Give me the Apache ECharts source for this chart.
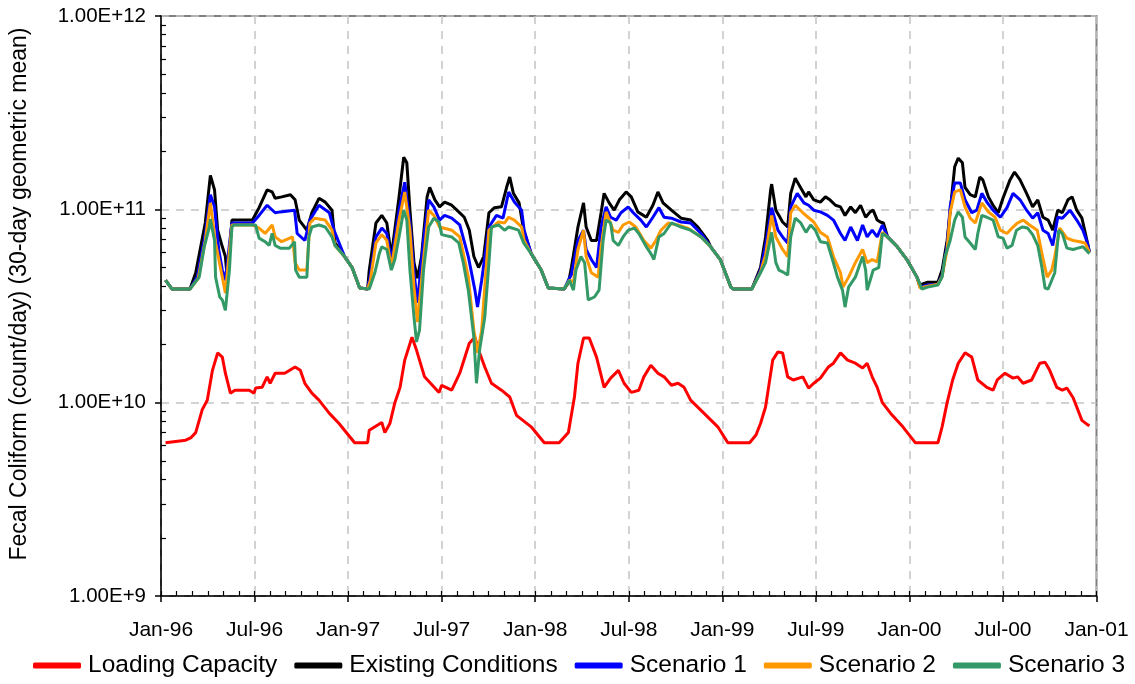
<!DOCTYPE html>
<html>
<head>
<meta charset="utf-8">
<title>Fecal Coliform Loading</title>
<script src="https://cdn.jsdelivr.net/npm/echarts@6/dist/echarts.min.js"></script>
<style>
  html, body { margin: 0; padding: 0; background: #ffffff; }
  #chart { width: 1135px; height: 684px; }
</style>
</head>
<body>
<div id="chart"></div>
<script>
// Axis tick labels, one every six months starting January 1996
const tickLabels = ['Jan-96','Jul-96','Jan-97','Jul-97','Jan-98','Jul-98','Jan-99','Jul-99','Jan-00','Jul-00','Jan-01'];

// 30-day geometric mean fecal coliform load (count/day), [date, value]
const loadingCapacity = [
  ['1996-01-10',6.2e9],['1996-02-18',6.4e9],['1996-02-28',6.6e9],['1996-03-08',7.0e9],['1996-03-21',9.2e9],
  ['1996-03-31',1.03e10],['1996-04-10',1.47e10],['1996-04-20',1.81e10],['1996-04-29',1.72e10],['1996-05-05',1.42e10],
  ['1996-05-15',1.12e10],['1996-05-24',1.16e10],['1996-06-21',1.16e10],['1996-06-30',1.12e10],['1996-07-03',1.19e10],
  ['1996-07-16',1.20e10],['1996-07-26',1.36e10],['1996-08-01',1.26e10],['1996-08-11',1.42e10],['1996-08-30',1.42e10],
  ['1996-09-19',1.53e10],['1996-09-29',1.47e10],['1996-10-08',1.26e10],['1996-10-22',1.12e10],['1996-11-05',1.03e10],
  ['1996-11-25',8.8e9],['1996-12-14',7.8e9],['1997-01-14',6.2e9],['1997-02-08',6.2e9],['1997-02-11',7.2e9],
  ['1997-03-06',7.9e9],['1997-03-12',7.0e9],['1997-03-22',7.8e9],['1997-04-01',1.0e10],['1997-04-11',1.20e10],
  ['1997-04-20',1.66e10],['1997-05-04',2.18e10],['1997-05-13',1.87e10],['1997-05-29',1.36e10],['1997-06-26',1.13e10],
  ['1997-07-01',1.23e10],['1997-07-21',1.16e10],['1997-08-06',1.42e10],['1997-08-25',2.03e10],['1997-09-05',2.18e10],
  ['1997-09-12',1.87e10],['1997-09-24',1.53e10],['1997-10-07',1.26e10],['1997-10-27',1.16e10],['1997-11-12',1.07e10],
  ['1997-11-25',8.6e9],['1997-12-24',7.5e9],['1998-01-19',6.2e9],['1998-02-16',6.2e9],['1998-03-05',7.0e9],
  ['1998-03-17',1.07e10],['1998-03-24',1.60e10],['1998-04-04',2.16e10],['1998-04-15',2.16e10],['1998-04-29',1.72e10],
  ['1998-05-14',1.20e10],['1998-05-27',1.34e10],['1998-06-11',1.47e10],['1998-06-22',1.26e10],['1998-07-06',1.13e10],
  ['1998-07-21',1.16e10],['1998-07-31',1.36e10],['1998-08-14',1.56e10],['1998-08-28',1.42e10],['1998-09-09',1.36e10],
  ['1998-09-23',1.23e10],['1998-10-06',1.26e10],['1998-10-18',1.20e10],['1998-10-31',1.03e10],['1998-11-26',8.8e9],
  ['1998-12-23',7.5e9],['1999-01-12',6.2e9],['1999-02-22',6.2e9],['1999-03-06',6.8e9],['1999-03-15',7.8e9],
  ['1999-03-25',9.5e9],['1999-04-08',1.66e10],['1999-04-18',1.83e10],['1999-04-27',1.81e10],['1999-05-07',1.36e10],
  ['1999-05-18',1.31e10],['1999-06-06',1.36e10],['1999-06-17',1.19e10],['1999-06-27',1.26e10],['1999-07-10',1.34e10],
  ['1999-07-26',1.53e10],['1999-08-05',1.60e10],['1999-08-19',1.81e10],['1999-09-02',1.66e10],['1999-09-17',1.60e10],
  ['1999-10-01',1.51e10],['1999-10-10',1.60e10],['1999-10-20',1.36e10],['1999-10-30',1.20e10],['1999-11-09',1.0e10],
  ['1999-11-25',8.8e9],['1999-12-19',7.5e9],['2000-01-13',6.2e9],['2000-02-25',6.2e9],['2000-03-04',7.5e9],
  ['2000-03-14',1.0e10],['2000-03-25',1.31e10],['2000-04-05',1.60e10],['2000-04-18',1.81e10],['2000-05-01',1.72e10],
  ['2000-05-13',1.31e10],['2000-05-31',1.20e10],['2000-06-12',1.16e10],['2000-06-20',1.31e10],['2000-07-05',1.42e10],
  ['2000-07-21',1.34e10],['2000-07-30',1.36e10],['2000-08-10',1.26e10],['2000-08-27',1.31e10],['2000-09-12',1.60e10],
  ['2000-09-22',1.62e10],['2000-10-01',1.47e10],['2000-10-15',1.20e10],['2000-10-26',1.16e10],['2000-11-04',1.19e10],
  ['2000-11-16',1.06e10],['2000-11-23',9.5e9],['2000-12-03',8.1e9],['2000-12-14',7.7e9],['2000-12-18',7.6e9]
];

const existingConditions = [
  ['1996-01-10',4.3e10],['1996-01-23',3.87e10],['1996-02-26',3.87e10],['1996-03-08',4.7e10],['1996-03-27',8.5e10],
  ['1996-04-06',1.5e11],['1996-04-14',1.26e11],['1996-04-20',7.8e10],['1996-04-29',6.4e10],['1996-05-05',5.7e10],
  ['1996-05-09',4.3e10],['1996-05-18',8.8e10],['1996-05-24',8.8e10],['1996-06-27',8.8e10],['1996-07-10',1.02e11],
  ['1996-07-26',1.26e11],['1996-08-05',1.23e11],['1996-08-11',1.14e11],['1996-08-24',1.16e11],['1996-09-10',1.19e11],
  ['1996-09-19',1.12e11],['1996-09-27',8.8e10],['1996-10-12',7.8e10],['1996-10-22',9.6e10],['1996-11-05',1.14e11],
  ['1996-11-17',1.09e11],['1996-11-30',9.9e10],['1996-12-06',6.7e10],['1996-12-25',5.7e10],['1997-01-09',5.0e10],
  ['1997-01-24',3.92e10],['1997-02-08',3.87e10],['1997-02-11',4.85e10],['1997-02-23',8.5e10],['1997-03-06',9.3e10],
  ['1997-03-16',8.5e10],['1997-03-25',5.7e10],['1997-04-09',1.16e11],['1997-04-18',1.86e11],['1997-04-24',1.74e11],
  ['1997-04-30',9.9e10],['1997-05-08',5.3e10],['1997-05-15',4.4e10],['1997-05-23',5.7e10],['1997-06-03',1.16e11],
  ['1997-06-08',1.3e11],['1997-06-18',1.12e11],['1997-06-27',1.03e11],['1997-07-07',1.09e11],['1997-07-21',1.05e11],
  ['1997-08-04',9.7e10],['1997-08-15',9.1e10],['1997-08-25',7.8e10],['1997-09-03',5.7e10],['1997-09-12',5.0e10],
  ['1997-09-22',5.7e10],['1997-10-02',9.6e10],['1997-10-13',1.02e11],['1997-10-27',1.03e11],['1997-11-06',1.3e11],
  ['1997-11-12',1.47e11],['1997-11-19',1.21e11],['1997-11-30',1.08e11],['1997-12-09',7.8e10],['1997-12-24',5.9e10],
  ['1998-01-13',4.85e10],['1998-01-27',3.92e10],['1998-02-25',3.87e10],['1998-03-05',4.16e10],['1998-03-11',5.0e10],
  ['1998-03-24',8.1e10],['1998-04-04',1.08e11],['1998-04-09',8.1e10],['1998-04-19',6.9e10],['1998-04-29',6.9e10],
  ['1998-05-08',9.6e10],['1998-05-14',1.21e11],['1998-05-24',1.08e11],['1998-06-03',9.9e10],['1998-06-13',1.12e11],
  ['1998-06-26',1.23e11],['1998-07-06',1.16e11],['1998-07-19',9.7e10],['1998-08-05',9.1e10],['1998-08-18',1.05e11],
  ['1998-08-28',1.23e11],['1998-09-07',1.08e11],['1998-09-23',9.9e10],['1998-10-12',9.0e10],['1998-10-31',8.8e10],
  ['1998-11-14',8.1e10],['1998-12-03',6.9e10],['1998-12-09',6.4e10],['1998-12-28',5.5e10],['1999-01-18',3.96e10],
  ['1999-01-23',3.87e10],['1999-02-26',3.87e10],['1999-03-15',5.0e10],['1999-03-25',7.2e10],['1999-04-04',1.26e11],
  ['1999-04-06',1.35e11],['1999-04-14',9.9e10],['1999-04-20',9.3e10],['1999-04-27',8.6e10],['1999-05-07',8.1e10],
  ['1999-05-13',1.21e11],['1999-05-22',1.45e11],['1999-06-02',1.29e11],['1999-06-12',1.16e11],['1999-06-17',1.23e11],
  ['1999-06-27',1.12e11],['1999-07-10',1.09e11],['1999-07-20',1.16e11],['1999-07-29',1.12e11],['1999-08-09',1.05e11],
  ['1999-08-19',1.03e11],['1999-08-28',9.3e10],['1999-09-08',1.03e11],['1999-09-17',9.6e10],['1999-09-27',1.05e11],
  ['1999-10-07',9.1e10],['1999-10-16',9.7e10],['1999-10-22',9.9e10],['1999-10-30',8.8e10],['1999-11-05',8.6e10],
  ['1999-11-11',8.5e10],['1999-11-19',7.2e10],['1999-12-08',6.4e10],['1999-12-27',5.5e10],['2000-01-16',4.46e10],
  ['2000-01-22',4.06e10],['2000-02-06',4.2e10],['2000-02-25',4.2e10],['2000-03-04',4.85e10],['2000-03-14',6.9e10],
  ['2000-03-23',1.16e11],['2000-03-29',1.66e11],['2000-04-05',1.84e11],['2000-04-13',1.74e11],['2000-04-18',1.3e11],
  ['2000-04-28',1.19e11],['2000-05-08',1.16e11],['2000-05-17',1.47e11],['2000-05-23',1.42e11],['2000-06-03',1.16e11],
  ['2000-06-12',1.05e11],['2000-06-22',9.6e10],['2000-07-01',1.14e11],['2000-07-15',1.42e11],['2000-07-24',1.56e11],
  ['2000-08-04',1.42e11],['2000-08-17',1.21e11],['2000-08-29',1.03e11],['2000-09-08',1.12e11],['2000-09-18',9.1e10],
  ['2000-09-28',8.8e10],['2000-10-07',7.8e10],['2000-10-17',9.9e10],['2000-10-26',9.6e10],['2000-11-06',1.12e11],
  ['2000-11-14',1.16e11],['2000-11-23',9.9e10],['2000-12-03',9.0e10],['2000-12-13',6.9e10],['2000-12-18',6.0e10]
];

const scenario1 = [
  ['1996-01-10',4.3e10],['1996-01-23',3.87e10],['1996-02-26',3.87e10],['1996-03-11',4.46e10],['1996-03-27',7.4e10],
  ['1996-04-06',1.19e11],['1996-04-14',1.03e11],['1996-04-22',6.2e10],['1996-04-29',4.85e10],['1996-05-05',4.3e10],
  ['1996-05-18',8.5e10],['1996-06-27',8.5e10],['1996-07-10',9.3e10],['1996-07-26',1.05e11],['1996-08-11',9.6e10],
  ['1996-08-21',9.7e10],['1996-09-18',9.9e10],['1996-09-23',7.5e10],['1996-10-08',6.9e10],['1996-10-18',8.8e10],
  ['1996-11-05',1.05e11],['1996-11-25',9.6e10],['1996-12-04',7.8e10],['1996-12-25',5.7e10],['1997-01-09',5.0e10],
  ['1997-01-24',3.92e10],['1997-02-08',3.87e10],['1997-02-13',4.6e10],['1997-02-23',7.2e10],['1997-03-06',8.0e10],
  ['1997-03-16',7.5e10],['1997-03-25',5.35e10],['1997-04-09',9.9e10],['1997-04-20',1.38e11],['1997-04-30',8.5e10],
  ['1997-05-08',4.7e10],['1997-05-15',3.28e10],['1997-05-27',6.9e10],['1997-06-06',1.12e11],['1997-06-16',1.03e11],
  ['1997-06-27',8.8e10],['1997-07-07',9.3e10],['1997-07-21',9.0e10],['1997-08-06',8.3e10],['1997-08-23',5.7e10],
  ['1997-09-05',3.82e10],['1997-09-10',3.12e10],['1997-09-18',4.3e10],['1997-10-02',8.1e10],['1997-10-17',9.3e10],
  ['1997-10-30',9.0e10],['1997-11-10',1.23e11],['1997-11-21',1.09e11],['1997-12-05',9.9e10],['1997-12-10',7.8e10],
  ['1997-12-24',5.9e10],['1998-01-13',4.85e10],['1998-01-27',3.92e10],['1998-02-25',3.87e10],['1998-03-07',4.4e10],
  ['1998-03-11',4.6e10],['1998-03-24',6.9e10],['1998-04-04',7.8e10],['1998-04-09',6.2e10],['1998-04-19',5.5e10],
  ['1998-04-29',5.0e10],['1998-05-08',8.1e10],['1998-05-18',1.03e11],['1998-05-27',9.1e10],['1998-06-07',8.8e10],
  ['1998-06-16',9.6e10],['1998-06-30',1.03e11],['1998-07-10',9.6e10],['1998-07-25',8.8e10],['1998-08-05',8.1e10],
  ['1998-08-18',9.1e10],['1998-08-30',1.02e11],['1998-09-09',9.1e10],['1998-09-23',9.0e10],['1998-10-12',8.6e10],
  ['1998-10-31',8.5e10],['1998-11-20',7.5e10],['1998-12-09',6.4e10],['1998-12-28',5.5e10],['1999-01-18',3.96e10],
  ['1999-01-23',3.87e10],['1999-02-26',3.87e10],['1999-03-15',4.85e10],['1999-03-25',6.5e10],['1999-04-06',1.02e11],
  ['1999-04-18',7.8e10],['1999-04-27',7.2e10],['1999-05-07',6.7e10],['1999-05-13',1.03e11],['1999-05-26',1.21e11],
  ['1999-06-08',1.08e11],['1999-06-17',1.05e11],['1999-06-27',9.9e10],['1999-07-10',9.7e10],['1999-07-24',9.3e10],
  ['1999-08-05',8.8e10],['1999-08-19',7.5e10],['1999-08-28',6.9e10],['1999-09-08',8.1e10],['1999-09-21',6.9e10],
  ['1999-10-01',8.3e10],['1999-10-10',7.2e10],['1999-10-20',7.8e10],['1999-10-30',7.2e10],['1999-11-09',8.3e10],
  ['1999-11-19',7.2e10],['1999-12-08',6.4e10],['1999-12-27',5.5e10],['2000-01-16',4.46e10],['2000-01-22',3.96e10],
  ['2000-02-06',4.06e10],['2000-02-25',4.1e10],['2000-03-04',4.57e10],['2000-03-14',6.5e10],['2000-03-20',1.03e11],
  ['2000-03-29',1.37e11],['2000-04-09',1.37e11],['2000-04-18',1.12e11],['2000-05-01',9.6e10],['2000-05-11',9.9e10],
  ['2000-05-21',1.21e11],['2000-05-31',1.09e11],['2000-06-12',9.9e10],['2000-06-26',9.1e10],['2000-07-09',1.02e11],
  ['2000-07-21',1.21e11],['2000-08-04',1.12e11],['2000-08-17',9.9e10],['2000-08-29',9.0e10],['2000-09-08',9.6e10],
  ['2000-09-18',7.8e10],['2000-09-28',7.5e10],['2000-10-07',6.5e10],['2000-10-17',9.1e10],['2000-10-26',9.0e10],
  ['2000-11-10',9.9e10],['2000-11-23',8.8e10],['2000-12-05',7.8e10],['2000-12-14',6.7e10],['2000-12-18',6.0e10]
];

const scenario2 = [
  ['1996-01-10',4.3e10],['1996-01-23',3.87e10],['1996-02-26',3.87e10],['1996-03-13',4.4e10],['1996-03-27',6.9e10],
  ['1996-04-06',1.08e11],['1996-04-16',6.7e10],['1996-04-29',4.46e10],['1996-05-05',3.69e10],['1996-05-18',8.3e10],
  ['1996-06-27',8.3e10],['1996-07-10',8.0e10],['1996-07-22',7.5e10],['1996-08-05',8.3e10],['1996-08-11',7.2e10],
  ['1996-08-24',6.8e10],['1996-09-14',7.2e10],['1996-09-19',5.3e10],['1996-09-27',4.85e10],['1996-10-12',4.85e10],
  ['1996-10-18',8.5e10],['1996-10-28',9.0e10],['1996-11-17',8.8e10],['1996-11-30',7.8e10],['1996-12-06',6.5e10],
  ['1996-12-25',5.7e10],['1997-01-09',5.0e10],['1997-01-24',3.92e10],['1997-02-08',3.87e10],['1997-02-13',4.3e10],
  ['1997-02-23',6.7e10],['1997-03-06',7.4e10],['1997-03-16',6.9e10],['1997-03-25',5.0e10],['1997-04-09',8.8e10],
  ['1997-04-20',1.23e11],['1997-04-30',7.8e10],['1997-05-08',3.96e10],['1997-05-15',2.61e10],['1997-05-27',5.5e10],
  ['1997-06-06',9.9e10],['1997-06-16',9.3e10],['1997-06-27',8.1e10],['1997-07-21',7.8e10],['1997-08-06',7.2e10],
  ['1997-08-23',4.46e10],['1997-09-03',2.37e10],['1997-09-10',1.81e10],['1997-09-18',2.37e10],['1997-10-02',7.8e10],
  ['1997-10-21',8.6e10],['1997-11-02',8.5e10],['1997-11-10',9.1e10],['1997-11-21',8.8e10],['1997-12-05',8.1e10],
  ['1997-12-10',6.9e10],['1997-12-24',5.9e10],['1998-01-13',4.85e10],['1998-01-27',3.92e10],['1998-02-25',3.87e10],
  ['1998-03-07',4.3e10],['1998-03-15',4.2e10],['1998-03-24',6.2e10],['1998-04-04',7.8e10],['1998-04-09',5.7e10],
  ['1998-04-19',4.7e10],['1998-05-02',4.46e10],['1998-05-08',6.4e10],['1998-05-18',9.7e10],['1998-06-01',7.8e10],
  ['1998-06-11',7.6e10],['1998-06-20',8.3e10],['1998-07-02',8.6e10],['1998-07-15',8.1e10],['1998-07-31',6.9e10],
  ['1998-08-14',6.3e10],['1998-08-24',6.9e10],['1998-09-03',7.8e10],['1998-09-17',8.5e10],['1998-10-06',8.3e10],
  ['1998-10-25',8.0e10],['1998-11-20',7.2e10],['1998-12-09',6.4e10],['1998-12-28',5.5e10],['1999-01-18',3.96e10],
  ['1999-01-23',3.87e10],['1999-02-26',3.87e10],['1999-03-15',4.75e10],['1999-03-25',5.8e10],['1999-04-06',9.3e10],
  ['1999-04-14',7.2e10],['1999-04-27',6.2e10],['1999-05-07',5.7e10],['1999-05-13',9.6e10],['1999-05-22',1.05e11],
  ['1999-06-06',9.6e10],['1999-06-16',9.1e10],['1999-06-27',8.6e10],['1999-07-10',7.6e10],['1999-07-24',7.2e10],
  ['1999-08-05',5.7e10],['1999-08-19',4.7e10],['1999-08-24',3.96e10],['1999-09-04',4.46e10],['1999-09-17',5.3e10],
  ['1999-10-01',6.2e10],['1999-10-10',5.3e10],['1999-10-20',5.5e10],['1999-10-30',5.35e10],['1999-11-09',7.6e10],
  ['1999-11-19',7.2e10],['1999-12-08',6.4e10],['1999-12-27',5.5e10],['2000-01-16',4.46e10],['2000-01-22',3.92e10],
  ['2000-02-06',4.0e10],['2000-02-25',4.1e10],['2000-03-04',4.5e10],['2000-03-14',6.2e10],['2000-03-20',9.6e10],
  ['2000-03-29',1.23e11],['2000-04-09',1.26e11],['2000-04-18',1.03e11],['2000-04-28',9.0e10],['2000-05-08',8.5e10],
  ['2000-05-21',1.08e11],['2000-06-03',9.7e10],['2000-06-16',9.1e10],['2000-06-26',7.8e10],['2000-07-09',7.5e10],
  ['2000-07-21',8.1e10],['2000-07-30',8.5e10],['2000-08-10',8.8e10],['2000-08-23',8.3e10],['2000-09-07',7.8e10],
  ['2000-09-16',5.9e10],['2000-09-26',4.46e10],['2000-10-05',4.85e10],['2000-10-11',5.7e10],['2000-10-21',8.0e10],
  ['2000-11-04',7.1e10],['2000-11-16',6.9e10],['2000-11-29',6.8e10],['2000-12-09',6.7e10],['2000-12-18',6.0e10]
];

const scenario3 = [
  ['1996-01-10',4.3e10],['1996-01-23',3.87e10],['1996-02-26',3.87e10],['1996-03-15',4.46e10],['1996-03-25',6.4e10],
  ['1996-04-04',8.1e10],['1996-04-06',8.9e10],['1996-04-14',6.9e10],['1996-04-16',4.46e10],['1996-04-24',3.52e10],
  ['1996-04-29',3.4e10],['1996-05-05',3.0e10],['1996-05-13',4.85e10],['1996-05-18',8.1e10],['1996-05-22',8.3e10],
  ['1996-07-03',8.3e10],['1996-07-10',7.1e10],['1996-07-22',6.8e10],['1996-07-30',6.5e10],['1996-08-05',7.5e10],
  ['1996-08-11',6.5e10],['1996-08-21',6.3e10],['1996-09-08',6.3e10],['1996-09-18',6.8e10],['1996-09-20',4.85e10],
  ['1996-09-27',4.46e10],['1996-10-12',4.46e10],['1996-10-16',7.2e10],['1996-10-22',8.1e10],['1996-11-05',8.3e10],
  ['1996-11-17',8.1e10],['1996-11-30',7.2e10],['1996-12-06',6.5e10],['1996-12-25',5.7e10],['1997-01-09',5.0e10],
  ['1997-01-24',3.92e10],['1997-02-11',3.87e10],['1997-02-21',4.7e10],['1997-03-01',5.9e10],['1997-03-06',6.4e10],
  ['1997-03-16',6.2e10],['1997-03-25',4.85e10],['1997-04-01',5.5e10],['1997-04-09',7.2e10],['1997-04-18',9.9e10],
  ['1997-04-24',8.8e10],['1997-04-30',4.85e10],['1997-05-08',2.77e10],['1997-05-13',2.06e10],['1997-05-19',2.37e10],
  ['1997-05-27',4.85e10],['1997-06-06',8.1e10],['1997-06-16',9.0e10],['1997-06-26',8.6e10],['1997-07-01',7.4e10],
  ['1997-07-21',7.2e10],['1997-08-04',6.7e10],['1997-08-13',5.3e10],['1997-08-23',3.82e10],['1997-09-03',2.18e10],
  ['1997-09-08',1.26e10],['1997-09-14',1.87e10],['1997-09-24',2.77e10],['1997-10-02',5.3e10],['1997-10-07',8.1e10],
  ['1997-10-21',8.3e10],['1997-11-02',7.8e10],['1997-11-10',8.1e10],['1997-11-29',7.8e10],['1997-12-09',6.7e10],
  ['1997-12-24',5.9e10],['1998-01-13',4.85e10],['1998-01-27',3.92e10],['1998-02-25',3.87e10],['1998-03-07',4.3e10],
  ['1998-03-15',3.82e10],['1998-03-20',4.85e10],['1998-03-30',5.7e10],['1998-04-06',5.3e10],['1998-04-13',3.4e10],
  ['1998-04-25',3.52e10],['1998-05-04',3.82e10],['1998-05-12',6.9e10],['1998-05-18',8.8e10],['1998-05-27',8.5e10],
  ['1998-06-01',6.9e10],['1998-06-11',6.5e10],['1998-06-20',7.2e10],['1998-06-30',7.8e10],['1998-07-12',8.0e10],
  ['1998-07-21',7.5e10],['1998-08-05',6.4e10],['1998-08-14',5.9e10],['1998-08-20',5.5e10],['1998-08-30',7.2e10],
  ['1998-09-09',7.5e10],['1998-09-23',8.5e10],['1998-10-12',8.1e10],['1998-10-31',7.8e10],['1998-11-20',7.2e10],
  ['1998-12-09',6.4e10],['1998-12-28',5.5e10],['1999-01-18',3.96e10],['1999-01-23',3.87e10],['1999-02-26',3.87e10],
  ['1999-03-15',4.7e10],['1999-03-25',5.3e10],['1999-04-06',7.6e10],['1999-04-14',5.3e10],['1999-04-20',4.85e10],
  ['1999-04-27',4.75e10],['1999-05-07',4.57e10],['1999-05-13',7.2e10],['1999-05-22',9.0e10],['1999-06-02',8.5e10],
  ['1999-06-12',7.6e10],['1999-06-21',8.3e10],['1999-06-30',7.8e10],['1999-07-10',6.8e10],['1999-07-24',6.7e10],
  ['1999-08-03',5.5e10],['1999-08-13',4.46e10],['1999-08-23',3.82e10],['1999-08-28',3.12e10],['1999-09-04',3.96e10],
  ['1999-09-17',4.46e10],['1999-10-01',5.7e10],['1999-10-07',4.85e10],['1999-10-10',3.82e10],['1999-10-16',4.3e10],
  ['1999-10-22',4.85e10],['1999-11-02',5.0e10],['1999-11-09',7.5e10],['1999-11-19',7.2e10],['1999-12-08',6.4e10],
  ['1999-12-27',5.5e10],['2000-01-16',4.46e10],['2000-01-26',3.87e10],['2000-02-06',3.96e10],['2000-02-25',4.06e10],
  ['2000-03-04',4.46e10],['2000-03-10',5.7e10],['2000-03-20',6.9e10],['2000-03-29',8.8e10],['2000-04-05',9.7e10],
  ['2000-04-13',9.1e10],['2000-04-18',7.2e10],['2000-04-28',6.7e10],['2000-05-08',6.2e10],['2000-05-13',7.5e10],
  ['2000-05-21',9.3e10],['2000-05-31',9.1e10],['2000-06-12',8.8e10],['2000-06-22',7.2e10],['2000-07-01',7.1e10],
  ['2000-07-09',6.3e10],['2000-07-19',6.5e10],['2000-07-28',7.8e10],['2000-08-08',8.1e10],['2000-08-19',8.0e10],
  ['2000-08-29',7.4e10],['2000-09-08',6.5e10],['2000-09-16',5.0e10],['2000-09-22',3.92e10],['2000-09-28',3.87e10],
  ['2000-10-05',4.3e10],['2000-10-11',4.7e10],['2000-10-19',7.8e10],['2000-10-26',7.5e10],['2000-11-04',6.3e10],
  ['2000-11-16',6.2e10],['2000-11-25',6.3e10],['2000-12-05',6.4e10],['2000-12-18',5.9e10]
];

// Convert a date string to months elapsed since 1 Jan 1996 (fractional)
function toMonths(s) {
  const [y, m, d] = s.split('-').map(Number);
  const daysInMonth = new Date(Date.UTC(y, m, 0)).getUTCDate();
  return (y - 1996) * 12 + (m - 1) + (d - 1) / daysInMonth;
}
const toPoints = arr => arr.map(([date, v]) => [toMonths(date), v]);

// Log-scale minor tick positions (2..9 within each decade)
const minorLogTicks = [];
for (let e = 9; e < 12; e++) {
  for (let k = 2; k <= 9; k++) minorLogTicks.push(k * Math.pow(10, e));
}

const FONT = 'Liberation Sans, Arial, sans-serif';
const gridLine = { show: true, lineStyle: { color: '#c4c4c4', width: 1.5, type: [8, 7] } };

const chart = echarts.init(document.getElementById('chart'), null, { renderer: 'canvas' });

const seriesDefs = [
  { name: 'Loading Capacity', data: loadingCapacity, color: '#ff0000' },
  { name: 'Existing Conditions', data: existingConditions, color: '#000000' },
  { name: 'Scenario 1', data: scenario1, color: '#0000ff' },
  { name: 'Scenario 2', data: scenario2, color: '#ff9900' },
  { name: 'Scenario 3', data: scenario3, color: '#339966' }
];

chart.setOption({
  animation: false,
  backgroundColor: '#ffffff',
  textStyle: { fontFamily: FONT, color: '#000' },
  grid: {
    left: 158, right: 38.5, top: 16, bottom: 88,
    show: true, borderColor: '#808080', borderWidth: 2, backgroundColor: 'transparent'
  },
  legend: {
    left: 33, top: 653, padding: 0,
    itemWidth: 48, itemHeight: 6, itemGap: 17,
    icon: 'roundRect',
    textStyle: { fontFamily: FONT, fontSize: 24.5, color: '#000', padding: [0, 0, 0, 2] },
    data: seriesDefs.map(s => s.name)
  },
  xAxis: [
    {
      type: 'value', min: 0, max: 60, interval: 6,
      axisLine: { show: true, lineStyle: { color: '#000', width: 1.5 } },
      axisTick: { show: true, inside: false, length: 6, lineStyle: { color: '#000', width: 1.5 } },
      axisLabel: {
        margin: 24, fontFamily: FONT, fontSize: 21, color: '#000',
        formatter: v => tickLabels[Math.round(v / 6)] || ''
      },
      splitLine: gridLine
    },
    {
      type: 'value', min: 0, max: 60, interval: 1, position: 'bottom',
      axisLine: { show: false },
      axisTick: { show: true, inside: true, length: 5, lineStyle: { color: '#000', width: 1.2 } },
      axisLabel: { show: false },
      splitLine: { show: false }
    }
  ],
  yAxis: [
    {
      type: 'log', logBase: 10, min: 1e9, max: 1e12,
      name: 'Fecal Coliform (count/day) (30-day geometric mean)',
      nameLocation: 'middle', nameGap: 130, nameRotate: 90,
      nameTextStyle: { fontFamily: FONT, fontSize: 23, color: '#000', padding: [0, 0, 0, 24] },
      axisLine: { show: true, lineStyle: { color: '#000', width: 1.5 } },
      axisTick: { show: true, inside: false, length: 6, lineStyle: { color: '#000', width: 1.5 } },
      axisLabel: {
        margin: 15, fontFamily: FONT, fontSize: 20.5, color: '#000',
        formatter: v => Number(v).toExponential(2).toUpperCase()
      },
      splitLine: gridLine
    },
    {
      type: 'log', logBase: 10, min: 1e9, max: 1e12, position: 'left',
      axisLine: { show: false },
      axisTick: { show: true, inside: true, length: 5, customValues: minorLogTicks, lineStyle: { color: '#000', width: 1.2 } },
      axisLabel: { show: false },
      splitLine: { show: false }
    }
  ],
  series: seriesDefs.map(s => ({
    name: s.name,
    type: 'line',
    xAxisIndex: 0,
    yAxisIndex: 0,
    data: toPoints(s.data),
    showSymbol: false,
    symbol: 'none',
    color: s.color,
    lineStyle: { color: s.color, width: 3 },
    emphasis: { disabled: true }
  }))
});
</script>
</body>
</html>
